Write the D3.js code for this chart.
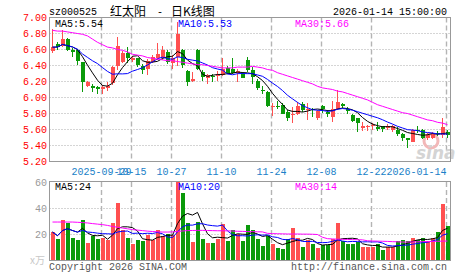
<html>
<head>
<meta charset="UTF-8">
<style>
body { margin: 0; background: #fff; }
text { font-family: "Liberation Mono", "DejaVu Sans Mono", monospace; font-size: 10px; }
</style>
</head>
<body>
<script src="https://d3js.org/d3.v7.min.js"></script>
<script>

var width = 472, height = 273;

// 交易日
var dates = [
  "2025-09-15","2025-09-16","2025-09-17","2025-09-18","2025-09-19","2025-09-22","2025-09-23","2025-09-24","2025-09-25","2025-09-26",
  "2025-09-29","2025-09-30","2025-10-09","2025-10-10","2025-10-13","2025-10-14","2025-10-15","2025-10-16","2025-10-17","2025-10-20",
  "2025-10-21","2025-10-22","2025-10-23","2025-10-24","2025-10-27","2025-10-28","2025-10-29","2025-10-30","2025-10-31","2025-11-03",
  "2025-11-04","2025-11-05","2025-11-06","2025-11-07","2025-11-10","2025-11-11","2025-11-12","2025-11-13","2025-11-14","2025-11-17",
  "2025-11-18","2025-11-19","2025-11-20","2025-11-21","2025-11-24","2025-11-25","2025-11-26","2025-11-27","2025-11-28","2025-12-01",
  "2025-12-02","2025-12-03","2025-12-04","2025-12-05","2025-12-08","2025-12-09","2025-12-10","2025-12-11","2025-12-12","2025-12-15",
  "2025-12-16","2025-12-17","2025-12-18","2025-12-19","2025-12-22","2025-12-23","2025-12-24","2025-12-25","2025-12-26","2025-12-29",
  "2025-12-30","2025-12-31","2026-01-05","2026-01-06","2026-01-07","2026-01-08","2026-01-09","2026-01-12","2026-01-13","2026-01-14"
];

var opens = [
  6.58,6.67,6.65,6.73,6.60,6.59,6.44,6.15,6.14,6.13,
  6.11,6.12,6.18,6.40,6.45,6.56,6.47,6.49,6.40,6.36,
  6.45,6.49,6.49,6.57,6.43,6.51,6.60,6.33,6.21,6.60,
  6.32,6.24,6.27,6.27,6.28,6.37,6.36,6.31,6.30,6.47,
  6.34,6.21,6.10,6.07,5.88,5.90,5.91,5.82,5.78,5.80,
  5.92,5.84,5.86,5.74,5.89,5.82,5.76,5.86,5.92,5.86,
  5.78,5.74,5.62,5.63,5.64,5.63,5.64,5.62,5.59,5.60,
  5.55,5.49,5.45,5.60,5.59,5.49,5.50,5.56,5.53,5.57
];
var highs = [
  6.86,6.70,6.85,6.75,6.62,6.61,6.45,6.21,6.17,6.15,
  6.16,6.19,6.40,6.76,6.58,6.63,6.52,6.50,6.42,6.48,
  6.53,6.68,6.65,6.59,6.53,6.94,6.61,6.35,6.32,6.61,
  6.34,6.30,6.30,6.33,6.49,6.40,6.49,6.36,6.32,6.51,
  6.38,6.23,6.14,6.08,5.93,5.96,5.93,5.84,5.88,5.94,
  5.95,5.93,5.87,5.85,5.91,5.84,5.96,6.09,5.93,5.88,
  5.79,5.75,5.70,5.66,5.68,5.70,5.65,5.67,5.66,5.63,
  5.56,5.50,5.61,5.64,5.61,5.56,5.57,5.58,5.75,5.60
];
var lows = [
  6.56,6.60,6.63,6.58,6.51,6.41,6.07,6.13,6.07,6.05,
  6.05,6.08,6.16,6.35,6.43,6.43,6.45,6.38,6.30,6.28,
  6.43,6.47,6.47,6.42,6.36,6.40,6.37,6.15,6.20,6.34,
  6.21,6.17,6.20,6.21,6.27,6.29,6.29,6.20,6.24,6.32,
  6.17,6.10,6.05,5.88,5.77,5.86,5.79,5.71,5.68,5.78,
  5.82,5.72,5.76,5.72,5.81,5.76,5.70,5.85,5.87,5.80,
  5.70,5.57,5.58,5.58,5.59,5.58,5.57,5.60,5.57,5.52,
  5.46,5.37,5.44,5.56,5.48,5.47,5.48,5.52,5.50,5.49
];
var closes = [
  6.63,6.63,6.73,6.60,6.57,6.46,6.19,6.20,6.12,6.11,
  6.13,6.15,6.38,6.65,6.56,6.50,6.49,6.41,6.34,6.46,
  6.51,6.54,6.59,6.45,6.49,6.80,6.41,6.19,6.23,6.36,
  6.26,6.28,6.26,6.28,6.36,6.31,6.31,6.33,6.25,6.34,
  6.26,6.12,6.09,5.89,5.90,5.89,5.80,5.74,5.80,5.90,
  5.85,5.86,5.84,5.83,5.86,5.79,5.86,5.94,5.89,5.83,
  5.71,5.68,5.64,5.65,5.66,5.61,5.61,5.65,5.64,5.55,
  5.50,5.47,5.59,5.58,5.50,5.53,5.55,5.54,5.63,5.53
];

// 成交量 (万手)
var volumes = [
  21.5,15.9,30.5,28.5,17.0,15.2,30.5,13.1,18.5,15.9,
  17.2,15.2,28.5,43.9,22.8,17.2,12.1,15.2,14.6,19.0,
  15.5,22.8,18.2,19.8,19.0,60.0,51.5,28.5,13.8,29.2,
  16.2,13.1,13.1,16.2,27.4,14.6,22.8,19.8,14.6,26.7,
  22.8,15.9,10.5,18.2,12.6,9.5,8.2,16.4,24.6,17.2,
  9.7,15.2,12.1,9.2,11.3,11.3,16.4,28.5,14.6,12.1,
  12.1,13.8,10.0,10.0,10.0,12.1,7.5,10.0,10.0,14.6,
  15.5,14.6,17.0,15.5,17.2,14.6,17.2,21.5,43.0,26.0
];

// MA30
var ma30 = [
  6.84,6.83,6.83,6.82,6.81,6.80,6.79,6.77,6.73,6.69,
  6.66,6.63,6.62,6.60,6.59,6.57,6.54,6.53,6.52,6.50,
  6.49,6.48,6.47,6.46,6.46,6.45,6.44,6.43,6.42,6.41,
  6.41,6.40,6.39,6.38,6.37,6.37,6.37,6.38,6.38,6.38,
  6.39,6.38,6.37,6.35,6.34,6.31,6.29,6.27,6.25,6.23,
  6.21,6.19,6.17,6.14,6.12,6.11,6.10,6.08,6.07,6.05,
  6.03,6.01,5.99,5.97,5.94,5.91,5.89,5.87,5.85,5.83,
  5.81,5.80,5.78,5.76,5.74,5.72,5.71,5.69,5.68,5.66
];
var volMa30 = [
  29.2,29.2,29.2,29.2,29.2,29.0,28.8,28.5,28.0,27.6,
  27.2,26.6,25.8,25.2,24.6,24.0,23.4,23.0,22.6,22.2,
  21.9,21.7,21.5,21.5,21.6,22.0,22.3,22.6,22.7,22.8,
  22.8,22.7,22.6,22.5,22.5,22.4,22.3,22.1,22.0,21.9,
  21.8,21.7,21.6,20.5,20.3,20.2,20.1,20.0,20.0,20.0,
  19.9,19.9,19.8,19.6,17.5,16.4,16.2,16.0,15.9,15.8,
  15.7,15.6,15.5,14.8,14.6,14.5,14.4,14.3,14.1,14.0,
  13.8,13.8,13.9,14.0,14.1,14.2,14.3,14.4,14.5,14.6
];

var priceTicks = [7.00, 6.80, 6.60, 6.40, 6.20, 6.00, 5.80, 5.60, 5.40, 5.20];
var volTicks = [60, 40, 20];
var tickDates = ["2025-09-29","2025-10-15","2025-10-27","2025-11-10","2025-11-24","2025-12-08","2025-12-22","2026-01-14"];
var tickLabels = ["2025-09-29","10-15","10-27","11-10","11-24","12-08","12-22","2026-01-14"];
var priceMaText = ["MA5:5.54", "MA10:5.53", "MA30:5.66"];
var volMaText = ["MA5:24", "MA10:20", "MA30:14"];

var RED = "#ff5050", GREEN = "#0a9a0a";
var maColors = ["#000000", "#0000ff", "#ff00ff"];

function movingAvg(arr, n) {
    return arr.map(function(v, i) {
        return d3.mean(arr.slice(Math.max(0, i - n + 1), i + 1));
    });
}

var svg = d3.select("body").append("svg")
    .attr("width", width).attr("height", height);

var L = 49.5, R = 450.5;
var pTop = 17.5, pBot = 161.5;
var vTop = 182, vBot = 260;

var x = d3.scalePoint().domain(dates).range([52.5, 447.5]);
var y = d3.scaleLinear().domain([5.20, 7.00]).range([pBot, pTop]);
var vy = d3.scaleLinear().domain([0, 60]).range([vBot, vTop]);

// 标题
svg.append("text").attr("x", 49).attr("y", 15).attr("fill", "#000").text("sz000525");
var cn = { "font-family": "Noto Sans CJK SC", "font-size": "12px" };
svg.append("text").attr("x", 110).attr("y", 15.5).style("font-family", cn["font-family"]).style("font-size", cn["font-size"]).text("红太阳");
svg.append("text").attr("x", 157).attr("y", 15).text("-");
svg.append("text").attr("x", 171).attr("y", 15.5).style("font-family", cn["font-family"]).style("font-size", cn["font-size"]).text("日K线图");
svg.append("text").attr("x", 447).attr("y", 15).attr("text-anchor", "end").text("2026-01-14 15:00:00");

// 网格
var grid = svg.append("g");
grid.selectAll(".hg").data(priceTicks.slice(1, -1)).enter().append("line")
    .attr("x1", L).attr("x2", R)
    .attr("y1", function(d) { return y(d); }).attr("y2", function(d) { return y(d); })
    .attr("stroke", "#aaa").attr("stroke-dasharray", "1,2");
grid.selectAll(".vg").data([40, 20]).enter().append("line")
    .attr("x1", L).attr("x2", R)
    .attr("y1", function(d) { return Math.round(vy(d)) + 0.5; }).attr("y2", function(d) { return Math.round(vy(d)) + 0.5; })
    .attr("stroke", "#aaa").attr("stroke-dasharray", "1,2");
[[pTop, pBot], [vTop, vBot]].forEach(function(r) {
    grid.selectAll(null).data(tickDates).enter().append("line")
        .attr("x1", function(d) { return x(d) - 1; }).attr("x2", function(d) { return x(d) - 1; })
        .attr("y1", r[0]).attr("y2", r[1])
        .attr("stroke", "#b4b4b4").attr("stroke-width", 1.4).attr("stroke-dasharray", "5,3");
});

// 水印
svg.append("circle").attr("cx", 431).attr("cy", 141).attr("r", 7)
    .attr("fill", "none").attr("stroke", "#f2b8b8").attr("stroke-width", 3);
svg.append("text").attr("x", 416).attr("y", 159)
    .style("font-family", "DejaVu Sans").style("font-size", "17px")
    .style("font-weight", "bold").style("font-style", "italic")
    .attr("fill", "#d4d4d4").text("sina");

// 边框
svg.append("rect").attr("x", L).attr("y", pTop).attr("width", R - L).attr("height", pBot - pTop)
    .attr("fill", "none").attr("stroke", "#999");
svg.append("rect").attr("x", L).attr("y", vTop - 0.5).attr("width", R - L).attr("height", vBot - vTop + 1)
    .attr("fill", "none").attr("stroke", "#999");

// 价格刻度
svg.selectAll(".pt").data(priceTicks).enter().append("text")
    .attr("x", 47).attr("y", function(d) { return y(d); }).attr("dy", "0.35em")
    .attr("text-anchor", "end").attr("fill", "#ff0000")
    .text(function(d) { return d.toFixed(2); });

// 成交量刻度
svg.selectAll(".vt").data(volTicks).enter().append("text")
    .attr("x", 47).attr("y", function(d) { return vy(d); }).attr("dy", "0.35em")
    .attr("text-anchor", "end").attr("fill", "#999")
    .text(function(d) { return d; });
svg.append("text").attr("x", 30).attr("y", 264).attr("fill", "#c8c8c8")
    .style("font-family", "Noto Sans CJK SC").style("font-size", "10px").text("x万");

// 日期
svg.selectAll(".xt").data(tickDates).enter().append("text")
    .attr("x", function(d, i) { return i === tickDates.length - 1 ? x(d) - 1 : x(d) - 1; })
    .attr("y", 174.5)
    .attr("text-anchor", function(d, i) { return i === tickDates.length - 1 ? "end" : "middle"; })
    .attr("fill", "#1a7fc8")
    .text(function(d, i) { return tickLabels[i]; });

// K线
var idx = d3.range(dates.length);
var candles = svg.append("g").attr("shape-rendering", "crispEdges");
candles.selectAll(".wick").data(idx).enter().append("line")
    .attr("x1", function(i) { return x(dates[i]); }).attr("x2", function(i) { return x(dates[i]); })
    .attr("y1", function(i) { return y(highs[i]); }).attr("y2", function(i) { return y(lows[i]); })
    .attr("stroke", function(i) { return closes[i] >= opens[i] ? RED : GREEN; });
candles.selectAll(".body").data(idx).enter().append("rect")
    .attr("x", function(i) { return x(dates[i]) - 2; })
    .attr("width", 4)
    .attr("y", function(i) { return y(Math.max(opens[i], closes[i])); })
    .attr("height", function(i) { return Math.max(1, Math.abs(y(opens[i]) - y(closes[i]))); })
    .attr("fill", function(i) { return closes[i] >= opens[i] ? RED : GREEN; });

// 成交量柱
candles.selectAll(".vol").data(idx).enter().append("rect")
    .attr("x", function(i) { return x(dates[i]) - 2; })
    .attr("width", 4)
    .attr("y", function(i) { return vy(volumes[i]); })
    .attr("height", function(i) { return vBot - vy(volumes[i]); })
    .attr("fill", function(i) { return closes[i] >= opens[i] ? RED : GREEN; });

// 均线
var priceMas = [movingAvg(closes, 5), movingAvg(closes, 10), ma30];
var volMas = [movingAvg(volumes, 5), movingAvg(volumes, 10), volMa30];

function drawLines(series, scale) {
    series.forEach(function(s, k) {
        var line = d3.line()
            .x(function(v, i) { return x(dates[i]); })
            .y(function(v) { return scale(v); });
        svg.append("path").datum(s)
            .attr("d", line)
            .attr("fill", "none")
            .attr("stroke", maColors[k])
            .attr("stroke-width", 1);
    });
}
drawLines(priceMas, y);
drawLines(volMas, vy);

// 均线标签
var labelX = [55, 178, 295];
svg.selectAll(".pm").data(priceMaText).enter().append("text")
    .attr("x", function(d, i) { return labelX[i]; }).attr("y", 27)
    .attr("fill", function(d, i) { return maColors[i]; })
    .text(function(d) { return d; });
svg.selectAll(".vm").data(volMaText).enter().append("text")
    .attr("x", function(d, i) { return labelX[i]; }).attr("y", 190)
    .attr("fill", function(d, i) { return maColors[i]; })
    .text(function(d) { return d; });

// 底部
svg.append("text").attr("x", 49).attr("y", 270).attr("fill", "#555").text("Copyright 2026 SINA.COM");
svg.append("text").attr("x", 447).attr("y", 270).attr("text-anchor", "end").attr("fill", "#555").text("http://finance.sina.com.cn");

</script>
</body>
</html>
